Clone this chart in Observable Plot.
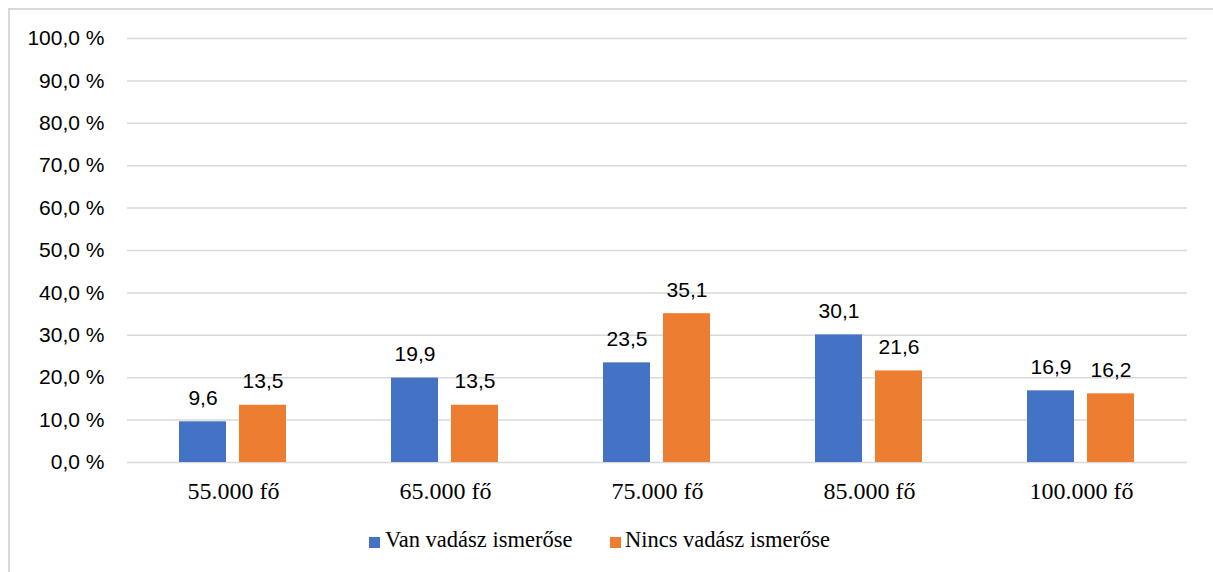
<!DOCTYPE html>
<html><head><meta charset="utf-8">
<script src="https://cdn.jsdelivr.net/npm/d3@7"></script>
<script src="https://cdn.jsdelivr.net/npm/@observablehq/plot@0.6"></script>
<style>
html,body{margin:0;padding:0;background:#fff;overflow:hidden;}
#frame{position:absolute;left:8px;top:8px;width:1220px;height:600px;border-top:2px solid #d9d9d9;border-left:2px solid #d9d9d9;}
#chart{position:absolute;left:0;top:0;}
.leg{position:absolute;font-family:"Liberation Serif","Times New Roman",Times,serif;font-size:22.5px;line-height:22.5px;color:#000;white-space:nowrap;}
.sw{position:absolute;width:11px;height:11px;}
</style></head><body>
<div id="frame"><div id="chart"></div><div id="legend"></div></div>
<script>
const categories = ["55.000 fő", "65.000 fő", "75.000 fő", "85.000 fő", "100.000 fő"];
const series = ["Van vadász ismerőse", "Nincs vadász ismerőse"];
const vanValues = [9.6, 19.9, 23.5, 30.1, 16.9];
const nincsValues = [13.5, 13.5, 35.1, 21.6, 16.2];
const yTicks = [0, 10, 20, 30, 40, 50, 60, 70, 80, 90, 100];
const colors = ["#4472C4", "#ED7D31"];

const data = [];
categories.forEach((c, i) => {
  data.push({category: c, series: series[0], value: vanValues[i]});
  data.push({category: c, series: series[1], value: nincsValues[i]});
});
const fmt = v => v.toFixed(1).replace(".", ",");
const serif = "'Liberation Serif', 'Times New Roman', Times, serif";
const sans = "'Liberation Sans', Arial, sans-serif";

const chart = Plot.plot({
  width: 1203, height: 510,
  marginTop: 28, marginBottom: 58, marginLeft: 115, marginRight: 24,
  style: {fontFamily: sans, fontSize: "21px", color: "#000", background: "transparent"},
  fx: {domain: categories, padding: 0, label: null},
  x: {domain: series, paddingInner: 0.213, paddingOuter: 0.851, axis: null},
  y: {domain: [0, 100], label: null},
  color: {domain: series, range: colors},
  marks: [
    Plot.ruleY(yTicks, {stroke: "#d9d9d9", strokeWidth: 1.5}),
    Plot.barY(data, {fx: "category", x: "series", y: "value", fill: "series"}),
    Plot.text(data, {fx: "category", x: "series", y: "value", text: d => fmt(d.value),
      lineAnchor: "bottom", dy: -17, fontSize: 21, fontFamily: sans, fill: "#000"}),
    Plot.axisY({ticks: yTicks, tickFormat: d => fmt(d) + " %", tickSize: 0, tickPadding: 23,
      fontSize: 21, fontFamily: sans, label: null, fill: "#000"}),
    Plot.axisFx({anchor: "bottom", tickSize: 0, tickPadding: 19, fontSize: 24, fontFamily: serif, label: null, fill: "#000"})
  ]
});
document.getElementById("chart").appendChild(chart);

const legend = document.getElementById("legend");
const legItems = [
  {sw: 359, tx: 375},
  {sw: 600, tx: 615}
];
series.forEach((s, i) => {
  const sq = document.createElement("div");
  sq.className = "sw";
  sq.style.left = legItems[i].sw + "px";
  sq.style.top = "527px";
  sq.style.background = colors[i];
  legend.appendChild(sq);
  const t = document.createElement("div");
  t.className = "leg";
  t.style.left = legItems[i].tx + "px";
  t.style.top = "519.2px";
  t.textContent = s;
  legend.appendChild(t);
});
</script>
</body></html>
